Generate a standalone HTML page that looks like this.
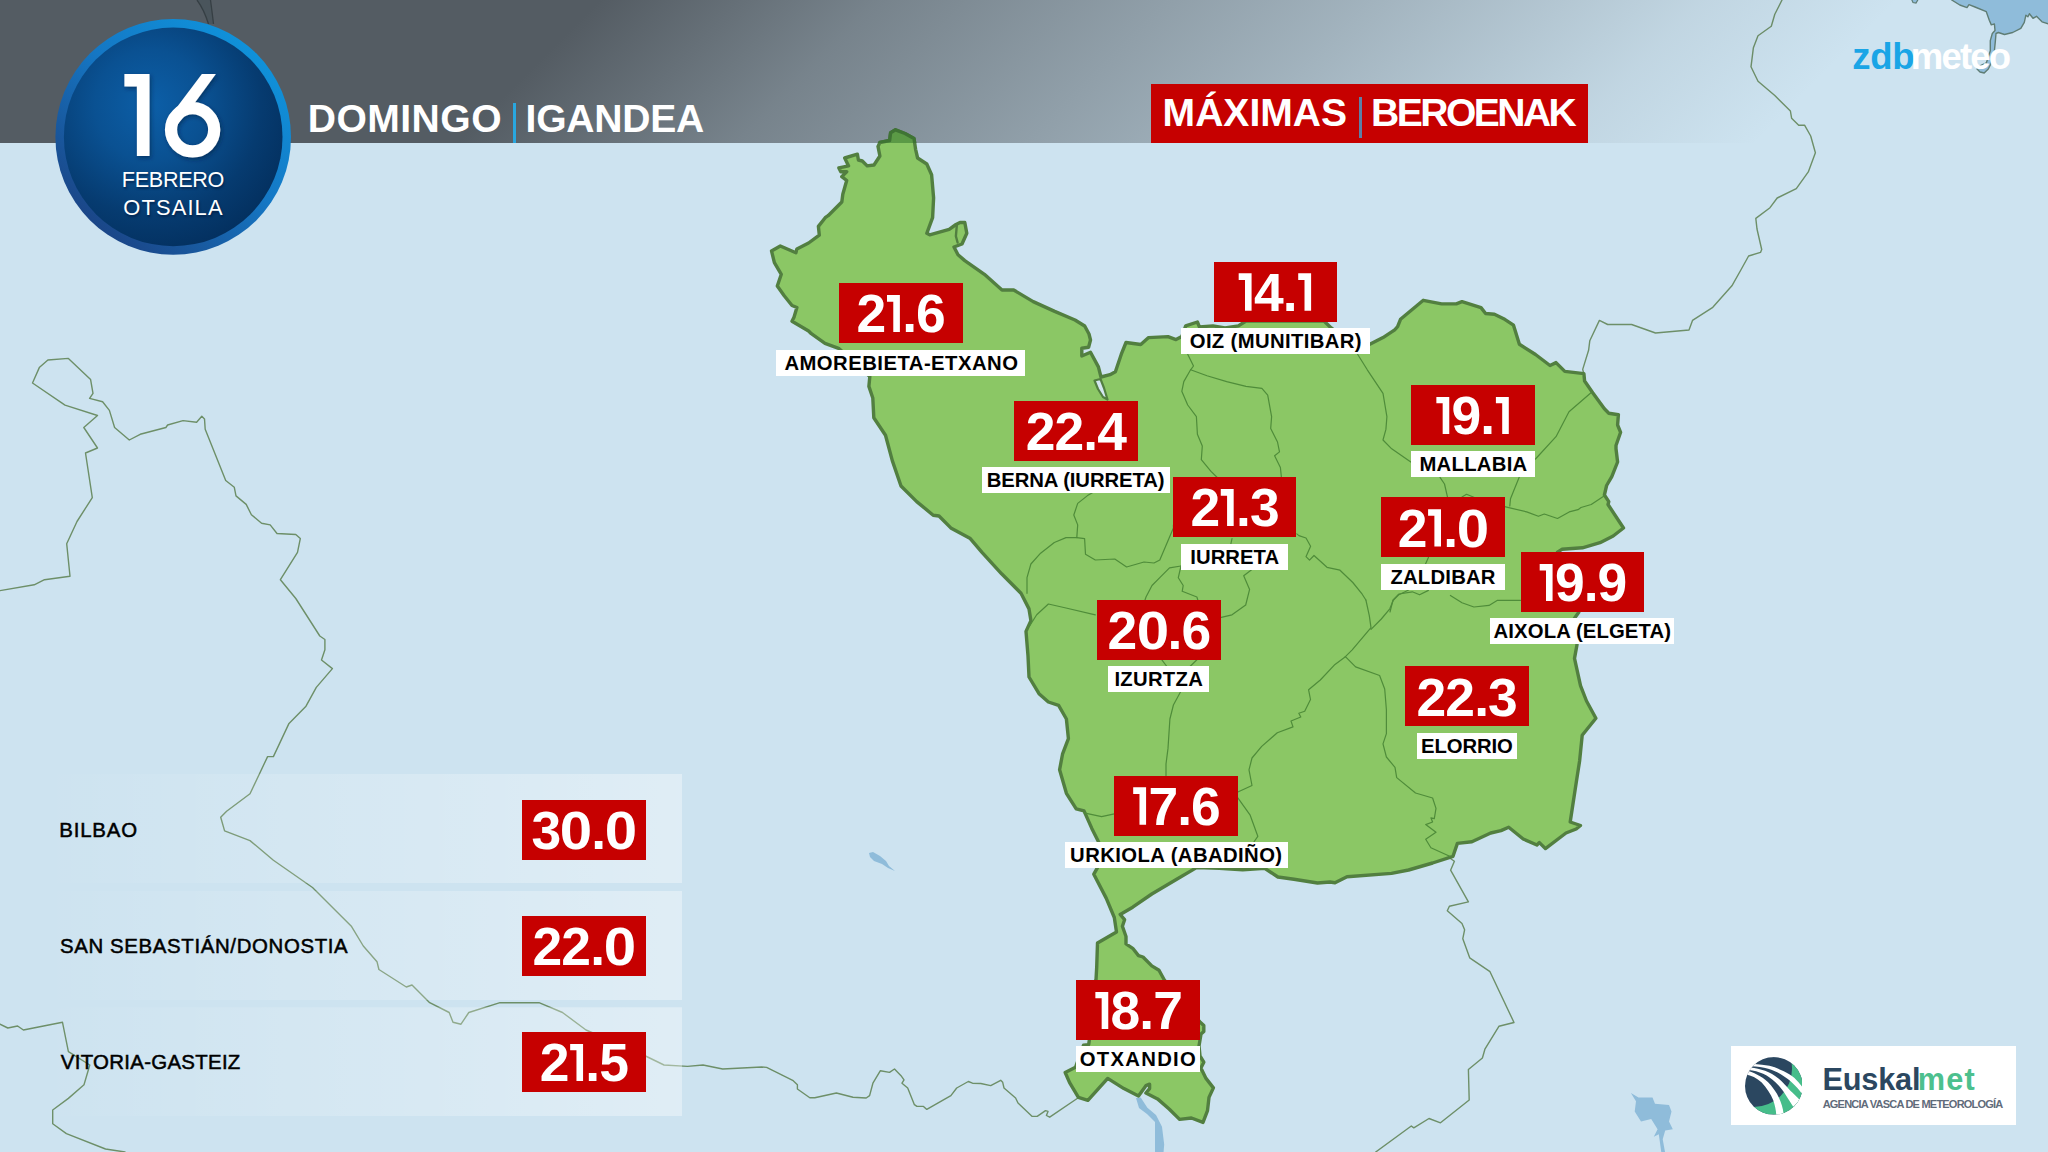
<!DOCTYPE html><html lang="es"><head><meta charset="utf-8"><title>Maximas</title><style>
*{margin:0;padding:0;box-sizing:border-box}
html,body{width:2048px;height:1152px;overflow:hidden;background:#cde3f0}
body{position:relative;font-family:"Liberation Sans",sans-serif}
#map{position:absolute;left:0;top:0}
.t{position:absolute;white-space:nowrap;line-height:1}
.box{position:absolute;background:#c60000;width:123.5px;height:60px;overflow:hidden}
.box span{position:absolute;left:0;top:4.20px;width:100%;text-align:center;color:#fff;font-weight:bold;font-size:53.4px;line-height:1;white-space:nowrap;letter-spacing:-0.9px}
.box i{display:inline-block;width:17.7px;height:37.4px;background:#fff;margin-right:-0.9px;clip-path:polygon(1.6px 0,14.5px 0,14.5px 100%,7.9px 100%,7.9px 6.6px,1.6px 6.6px)}
.box b{display:inline-block;transform:scaleX(1.09);margin:0 1.2px}
.lab{position:absolute;background:#fff;height:26px}
</style></head><body>
<svg id="map" width="2048" height="1152" viewBox="0 0 2048 1152">
<defs>
<linearGradient id="hg" gradientUnits="userSpaceOnUse" x1="300" y1="300" x2="950" y2="950">
<stop offset="0" stop-color="#545c63" stop-opacity="1"/>
<stop offset="0.215" stop-color="#545c63" stop-opacity="0.71"/>
<stop offset="0.44" stop-color="#545c63" stop-opacity="0.50"/>
<stop offset="0.58" stop-color="#545c63" stop-opacity="0.37"/>
<stop offset="0.73" stop-color="#545c63" stop-opacity="0.22"/>
<stop offset="0.85" stop-color="#545c63" stop-opacity="0.10"/>
<stop offset="1" stop-color="#545c63" stop-opacity="0"/>
</linearGradient>
<linearGradient id="ring" x1="0.85" y1="0.1" x2="0.15" y2="0.9">
<stop offset="0" stop-color="#0f93db"/><stop offset="0.45" stop-color="#1577c4"/><stop offset="1" stop-color="#1b4384"/>
</linearGradient>
<radialGradient id="disc" gradientUnits="userSpaceOnUse" cx="150" cy="105" r="185">
<stop offset="0" stop-color="#0c5fa8"/><stop offset="0.3" stop-color="#0a5192"/><stop offset="0.6" stop-color="#063b70"/><stop offset="0.85" stop-color="#032e5c"/><stop offset="1" stop-color="#02264e"/>
</radialGradient>
<linearGradient id="rowg" gradientUnits="userSpaceOnUse" x1="40" y1="0" x2="682" y2="0">
<stop offset="0" stop-color="#fff" stop-opacity="0"/><stop offset="1" stop-color="#fff" stop-opacity="0.37"/>
</linearGradient>
<filter id="sh" x="-20%" y="-20%" width="150%" height="150%"><feDropShadow dx="1.5" dy="2" stdDeviation="2" flood-color="#001a3d" flood-opacity="0.55"/></filter>
<clipPath id="hdrclip"><rect x="0" y="0" width="2048" height="143"/></clipPath>
</defs>
<rect width="2048" height="1152" fill="#cde3f0"/>
<polygon points="1951.7,0.0 1959.8,5.0 1967.0,7.6 1969.0,4.6 1975.0,7.0 1986.3,11.7 1989.3,20.3 1991.3,24.9 1994.4,23.9 1995.0,30.5 1992.3,33.5 1990.3,40.6 1990.3,50.8 1988.3,56.9 1986.3,63.0 1980.0,66.0 1977.0,69.0 1980.0,72.0 1984.2,73.0 1988.3,69.0 1990.3,65.0 1994.4,50.8 1995.4,40.6 1996.0,33.5 1998.4,32.5 2004.5,34.5 2012.7,32.5 2020.8,28.4 2024.3,22.3 2025.9,15.2 2027.9,16.8 2029.4,13.7 2033.0,18.3 2036.5,16.3 2042.0,21.8 2050.0,24.5 2050.0,-2.0 1951.7,-2.0" fill="#8fbcda" stroke="#5f7d74" stroke-width="1.4" stroke-linejoin="round"/>
<polygon points="1911.0,-2.0 1913.0,2.5 1916.0,3.0 1919.0,-2.0" fill="#8fbcda" stroke="#5f7d74" stroke-width="1.2"/>
<polygon points="1630.9,1093.0 1638.5,1097.4 1652.5,1097.4 1655.0,1103.8 1669.0,1105.0 1671.5,1111.4 1669.0,1121.6 1672.8,1129.2 1665.2,1130.4 1662.7,1139.3 1665.2,1153.0 1661.4,1153.0 1658.8,1134.3 1653.8,1136.8 1657.6,1129.2 1651.2,1119.0 1641.0,1121.6 1634.7,1111.4 1636.0,1101.2" fill="#8fbcda"/>
<polygon points="869.0,853.0 873.0,852.0 880.0,856.0 886.0,861.0 889.0,866.0 895.0,871.0 888.0,868.0 882.0,864.0 874.0,861.0 870.0,857.0" fill="#8fbcda"/>
<polygon points="1136.0,1098.0 1139.0,1108.0 1147.0,1114.0 1155.0,1122.0 1155.0,1136.0 1155.0,1153.0 1163.5,1153.0 1164.2,1144.4 1162.0,1126.8 1156.0,1115.0 1147.4,1107.7 1140.7,1097.4" fill="#8fbcda"/>
<polyline points="0.0,590.6 34.2,584.8 44.5,579.7 70.0,576.2 66.7,543.7 77.0,521.5 92.3,497.6 85.5,453.0 97.5,448.0 83.8,427.5 97.5,415.5 65.0,405.2 32.5,383.0 39.3,367.6 47.9,360.0 68.4,358.4 90.6,379.6 93.0,393.3 89.6,398.4 102.6,401.8 109.4,410.4 114.6,427.5 129.3,440.0 140.2,434.3 165.9,427.5 167.6,425.0 183.0,420.6 196.6,422.3 201.8,416.2 204.5,418.9 205.2,429.2 225.7,480.5 234.3,487.3 236.0,495.9 246.2,504.4 251.4,514.7 261.6,523.2 270.2,524.9 277.0,533.5 295.8,534.5 300.3,538.6 297.5,552.3 280.4,579.7 295.8,598.5 319.8,636.0 324.9,639.5 324.9,649.8 321.5,660.0 332.4,668.6 316.3,687.4 306.0,706.2 289.0,723.4 273.4,756.6 267.6,756.6 250.0,793.8 226.6,811.3 220.7,817.2 224.6,830.9 250.0,840.6 273.4,860.2 312.5,887.5 351.6,926.6 363.3,946.0 377.0,961.7 378.9,969.5 406.3,987.0 412.0,985.0 429.7,1002.7 449.2,1012.5 453.0,1022.3 461.0,1024.2 468.8,1012.5 500.0,1002.7 539.0,1002.7 562.5,1012.5 586.0,1030.0 609.4,1039.8 644.5,1055.5 664.0,1065.0 687.5,1066.4 703.0,1065.0 722.7,1069.0 761.7,1067.0 766.6,1067.4 793.2,1080.7 797.4,1084.8 797.4,1089.0 809.8,1097.8 814.8,1097.8 836.4,1093.0 853.0,1097.3 866.2,1098.0 869.6,1095.6 872.9,1083.2 880.4,1070.7 889.5,1072.4 894.5,1069.0 901.0,1075.7 904.0,1079.8 902.0,1083.2 907.7,1088.0 914.4,1104.7 916.9,1106.4 923.5,1106.4 926.8,1109.4 950.9,1095.6 956.7,1088.0 968.3,1081.5 972.5,1083.2 980.8,1083.5 990.7,1085.6 1000.7,1080.3 1002.7,1082.3 1004.0,1088.0 1015.6,1098.0 1018.0,1103.0 1032.2,1116.4 1037.2,1116.4 1045.5,1110.6 1048.0,1111.4 1046.4,1115.5 1049.7,1117.2 1077.9,1098.0" fill="none" stroke="#6d8f68" stroke-width="1.4" stroke-linejoin="round" stroke-linecap="round"/>
<polyline points="0.0,1024.2 7.8,1028.0 17.6,1026.0 23.4,1030.0 62.5,1022.3 68.4,1051.6 89.8,1065.0 84.0,1084.8 68.4,1098.4 52.7,1110.0 52.7,1123.8 66.4,1133.6 105.5,1149.0 125.0,1152.0" fill="none" stroke="#6d8f68" stroke-width="1.4" stroke-linejoin="round" stroke-linecap="round"/>
<polyline points="1782.0,0.0 1774.8,14.3 1771.3,26.3 1758.0,35.8 1753.4,47.7 1751.0,66.8 1758.0,81.2 1774.8,95.5 1790.4,111.0 1791.6,118.2 1798.7,125.3 1804.7,125.3 1810.7,136.0 1815.4,152.8 1808.3,171.9 1796.3,188.6 1777.2,198.0 1770.0,207.7 1755.8,218.4 1757.0,229.0 1761.7,249.5 1760.5,252.4 1748.6,256.0 1741.4,269.0 1731.9,285.8 1712.8,307.3 1692.5,320.4 1689.0,330.0 1655.5,333.0 1631.6,324.5 1607.7,324.5 1599.4,320.4 1589.8,340.7 1588.6,350.3 1582.7,369.4 1583.9,374.0" fill="none" stroke="#6d8f68" stroke-width="1.4" stroke-linejoin="round" stroke-linecap="round"/>
<polyline points="1449.7,858.0 1454.4,861.3 1450.6,870.2 1468.4,901.9 1449.4,906.2 1447.3,910.8 1462.0,923.5 1464.6,929.8 1462.8,938.7 1469.7,957.8 1490.0,971.7 1514.0,1022.5 1498.9,1026.3 1484.9,1049.2 1482.4,1058.0 1468.4,1069.5 1469.2,1100.0 1440.5,1122.8 1429.0,1118.5 1413.8,1127.9 1411.3,1126.0 1375.7,1152.0" fill="none" stroke="#6d8f68" stroke-width="1.4" stroke-linejoin="round" stroke-linecap="round"/>
<polygon points="895.5,129.8 905.0,133.5 914.0,138.5 915.6,149.3 917.6,158.0 926.8,164.0 931.6,174.7 933.6,198.0 932.6,217.6 926.8,233.3 929.7,234.8 949.2,229.4 956.0,224.5 960.0,222.5 964.8,222.5 966.8,233.3 962.0,244.0 954.0,247.0 958.0,254.8 964.8,260.6 984.4,274.3 1002.0,290.0 1013.7,290.0 1033.2,301.6 1054.7,311.4 1075.0,320.0 1084.7,326.0 1089.0,334.0 1090.5,340.0 1088.6,347.3 1081.8,348.3 1081.8,356.0 1090.5,352.2 1098.4,366.9 1101.0,377.0 1110.0,374.7 1115.4,371.8 1121.3,354.2 1126.0,342.5 1140.8,344.5 1148.6,337.6 1168.0,336.6 1176.0,339.6 1181.8,336.6 1185.7,325.9 1197.4,322.0 1199.4,326.9 1213.0,325.9 1225.0,328.0 1238.4,325.9 1246.0,321.0 1324.0,321.0 1331.2,327.9 1345.0,338.0 1369.3,344.5 1383.0,337.6 1394.7,329.8 1397.6,326.7 1400.5,319.3 1423.3,300.3 1441.6,303.9 1456.3,303.9 1462.0,301.7 1481.0,307.6 1485.6,313.5 1494.4,314.2 1504.7,319.3 1513.5,325.2 1519.4,344.3 1535.5,354.5 1550.0,365.5 1556.0,362.6 1564.8,371.4 1583.9,373.6 1584.6,381.0 1592.7,392.7 1604.4,408.8 1608.8,413.2 1618.4,414.7 1617.6,425.0 1620.6,432.3 1616.0,445.5 1616.0,448.8 1617.6,462.0 1611.8,476.7 1606.6,485.5 1604.4,495.0 1608.8,501.6 1608.0,504.5 1623.5,528.0 1613.2,536.0 1600.0,542.7 1582.4,547.8 1561.9,549.3 1557.5,552.2 1565.0,580.0 1578.8,612.2 1574.5,618.2 1577.0,644.7 1574.5,658.4 1580.5,685.7 1586.5,701.0 1595.9,718.2 1582.2,735.3 1579.6,761.0 1576.2,782.7 1570.2,822.0 1580.5,825.5 1576.2,829.0 1566.0,833.0 1545.4,848.6 1539.4,842.6 1536.9,845.0 1523.2,839.0 1508.7,827.2 1501.0,830.6 1490.7,833.0 1471.9,841.7 1457.4,843.4 1453.0,856.3 1432.6,863.0 1408.6,870.0 1391.5,873.4 1347.0,876.8 1335.0,882.8 1330.0,882.0 1317.5,883.0 1294.0,879.3 1277.9,877.0 1264.7,868.3 1242.7,869.8 1219.2,868.3 1196.5,867.6 1176.7,879.3 1151.8,894.0 1132.7,907.2 1120.2,914.5 1124.6,919.7 1122.4,926.3 1126.0,936.5 1126.0,943.9 1132.7,948.3 1138.5,955.6 1143.0,957.0 1151.8,965.9 1159.0,970.3 1164.2,979.8 1180.0,1000.0 1200.0,1021.9 1203.8,1025.5 1203.8,1031.4 1201.0,1034.0 1199.0,1046.0 1200.0,1056.0 1203.8,1062.2 1200.9,1068.0 1206.0,1078.4 1213.4,1087.9 1209.0,1097.4 1207.5,1110.6 1203.0,1122.4 1191.4,1118.0 1179.6,1119.4 1169.4,1109.2 1157.6,1098.9 1145.9,1093.0 1149.6,1088.6 1149.6,1084.2 1145.9,1085.7 1138.5,1096.0 1123.9,1088.6 1107.7,1078.4 1087.9,1100.4 1078.4,1097.4 1069.6,1082.7 1065.2,1072.5 1075.5,1067.3 1083.5,1045.3 1088.7,1044.6 1089.4,1039.5 1096.0,979.8 1096.7,967.4 1097.5,943.0 1116.5,932.0 1114.3,917.5 1106.3,898.4 1093.8,874.2 1097.5,867.6 1099.6,844.0 1091.8,828.4 1084.0,810.9 1076.2,808.9 1066.4,793.3 1059.6,769.8 1062.5,754.2 1068.4,738.6 1066.4,719.0 1058.6,705.4 1048.4,702.0 1039.0,693.7 1029.0,677.0 1028.0,655.8 1026.0,631.4 1030.9,620.6 1029.0,608.9 1021.0,593.3 1001.6,573.8 982.0,552.3 970.3,538.6 950.8,527.9 939.0,516.0 933.2,515.2 916.7,501.6 901.0,486.0 892.3,460.6 885.5,435.2 873.8,417.7 872.8,398.0 868.9,386.4 869.8,376.6 838.6,348.3 825.0,343.4 811.3,333.7 808.6,331.0 792.0,321.2 794.0,317.3 796.9,307.5 792.0,305.5 784.2,295.8 777.3,286.0 781.3,274.3 774.4,262.6 771.5,250.9 780.3,246.0 795.9,252.8 796.9,248.9 808.6,243.0 819.3,235.2 818.4,226.4 825.2,217.7 828.1,215.7 841.8,202.0 842.8,194.2 846.7,180.5 841.8,176.6 846.7,171.8 840.8,171.8 838.9,167.9 848.6,165.9 844.7,158.0 857.4,154.2 858.4,160.0 862.3,161.0 867.2,165.9 874.0,165.0 879.9,156.0 878.0,146.4 879.9,142.5 889.6,140.5 890.6,132.7" fill="#8bc765" stroke="#527f40" stroke-width="3.4" stroke-linejoin="round"/>
<polygon points="1094.5,380.5 1098.0,389.0 1103.0,397.0 1107.5,399.5 1104.0,388.0 1100.5,379.0" fill="#d4e6f0" stroke="#527f40" stroke-width="2.2" stroke-linejoin="round"/>
<polyline points="956.8,225.5 955.9,236.2 957.6,242.5" fill="none" stroke="#527f40" stroke-width="2.4" stroke-linecap="round"/>
<polyline points="1027.0,593.3 1027.0,577.6 1030.9,564.0 1040.6,553.2 1054.3,542.5 1066.0,537.6 1076.8,537.6 1077.7,524.9 1073.8,515.0 1077.7,503.4 1087.5,495.6 1092.4,492.7" fill="none" stroke="#4f8c3a" stroke-width="1.2" stroke-linejoin="round" stroke-linecap="round"/>
<polyline points="1076.8,537.6 1084.6,538.6 1085.5,554.2 1095.3,560.0 1114.8,559.0 1126.6,567.0 1144.0,562.0 1154.0,563.0 1159.8,560.0 1173.4,527.9 1173.4,525.0" fill="none" stroke="#4f8c3a" stroke-width="1.2" stroke-linejoin="round" stroke-linecap="round"/>
<polyline points="1181.0,566.0 1169.5,567.9 1159.8,577.7 1152.0,585.5 1146.0,597.0 1145.0,600.0" fill="none" stroke="#4f8c3a" stroke-width="1.2" stroke-linejoin="round" stroke-linecap="round"/>
<polyline points="1181.0,566.0 1178.3,577.7 1183.2,585.5 1182.2,591.3 1196.9,597.0 1197.8,600.0" fill="none" stroke="#4f8c3a" stroke-width="1.2" stroke-linejoin="round" stroke-linecap="round"/>
<polyline points="1232.0,538.6 1230.0,548.0" fill="none" stroke="#4f8c3a" stroke-width="1.2" stroke-linejoin="round" stroke-linecap="round"/>
<polyline points="1251.6,569.8 1243.7,575.7 1249.6,589.4 1245.7,605.0 1232.0,614.8 1220.3,617.7" fill="none" stroke="#4f8c3a" stroke-width="1.2" stroke-linejoin="round" stroke-linecap="round"/>
<polyline points="1029.9,625.5 1036.7,614.8 1048.4,604.0 1066.0,608.0 1095.3,614.8" fill="none" stroke="#4f8c3a" stroke-width="1.2" stroke-linejoin="round" stroke-linecap="round"/>
<polyline points="1161.7,659.7 1167.6,667.5" fill="none" stroke="#4f8c3a" stroke-width="1.2" stroke-linejoin="round" stroke-linecap="round"/>
<polyline points="1196.9,659.7 1189.0,667.5" fill="none" stroke="#4f8c3a" stroke-width="1.2" stroke-linejoin="round" stroke-linecap="round"/>
<polyline points="1181.0,691.0 1173.4,705.0 1169.9,719.0 1168.0,748.4 1166.0,764.0 1166.0,775.7" fill="none" stroke="#4f8c3a" stroke-width="1.2" stroke-linejoin="round" stroke-linecap="round"/>
<polyline points="1084.0,812.8 1101.6,816.7 1114.3,813.8" fill="none" stroke="#4f8c3a" stroke-width="1.2" stroke-linejoin="round" stroke-linecap="round"/>
<polyline points="1345.4,656.7 1335.0,664.4 1320.3,680.0 1308.6,689.8 1310.5,699.5 1304.7,711.3 1298.8,713.2 1300.8,717.0 1291.0,721.0 1293.0,726.9 1277.3,732.7 1261.7,746.4 1252.0,758.0 1249.0,769.8 1252.0,785.5 1237.3,792.3" fill="none" stroke="#4f8c3a" stroke-width="1.2" stroke-linejoin="round" stroke-linecap="round"/>
<polyline points="1237.3,797.2 1250.0,814.8 1257.8,836.3 1253.9,842.0" fill="none" stroke="#4f8c3a" stroke-width="1.2" stroke-linejoin="round" stroke-linecap="round"/>
<polyline points="1187.7,354.2 1193.5,366.0 1190.6,369.8 1183.8,381.6 1181.8,391.3 1187.7,405.0 1196.4,416.7 1197.4,434.3 1202.3,446.0 1201.3,459.7 1211.0,471.4 1217.0,477.3" fill="none" stroke="#4f8c3a" stroke-width="1.2" stroke-linejoin="round" stroke-linecap="round"/>
<polyline points="1190.6,369.8 1207.0,375.7 1226.7,381.6 1246.0,386.4 1261.9,388.4 1267.7,395.2 1271.6,416.7 1270.7,428.4 1277.5,442.0 1279.5,451.9 1274.6,455.8 1280.4,467.5 1281.4,477.3" fill="none" stroke="#4f8c3a" stroke-width="1.2" stroke-linejoin="round" stroke-linecap="round"/>
<polyline points="1357.6,354.2 1367.3,369.8 1383.0,393.3 1386.9,416.7 1385.9,429.4 1383.0,440.0 1391.7,448.8 1410.8,462.0" fill="none" stroke="#4f8c3a" stroke-width="1.2" stroke-linejoin="round" stroke-linecap="round"/>
<polyline points="1440.0,477.4 1444.5,484.0 1447.5,497.2" fill="none" stroke="#4f8c3a" stroke-width="1.2" stroke-linejoin="round" stroke-linecap="round"/>
<polyline points="1462.0,497.0 1466.5,494.3 1473.9,497.2" fill="none" stroke="#4f8c3a" stroke-width="1.2" stroke-linejoin="round" stroke-linecap="round"/>
<polyline points="1591.0,392.7 1569.0,411.8 1556.0,436.7 1535.5,459.0" fill="none" stroke="#4f8c3a" stroke-width="1.2" stroke-linejoin="round" stroke-linecap="round"/>
<polyline points="1519.4,476.7 1513.5,491.3 1510.5,498.7 1509.8,506.0" fill="none" stroke="#4f8c3a" stroke-width="1.2" stroke-linejoin="round" stroke-linecap="round"/>
<polyline points="1504.7,506.7 1526.7,511.9 1538.4,516.3 1544.3,514.0 1557.5,518.5 1569.2,511.9 1578.0,509.7 1581.0,507.5 1591.2,504.5 1604.4,495.7" fill="none" stroke="#4f8c3a" stroke-width="1.2" stroke-linejoin="round" stroke-linecap="round"/>
<polyline points="1390.0,612.0 1393.0,600.0 1399.0,594.0 1412.3,591.8 1419.6,594.8 1428.4,590.4" fill="none" stroke="#4f8c3a" stroke-width="1.2" stroke-linejoin="round" stroke-linecap="round"/>
<polyline points="1428.4,557.4 1425.5,564.0" fill="none" stroke="#4f8c3a" stroke-width="1.2" stroke-linejoin="round" stroke-linecap="round"/>
<polyline points="1450.4,595.5 1462.0,602.8 1473.9,607.0 1489.0,605.4 1497.5,600.3 1520.5,600.3" fill="none" stroke="#4f8c3a" stroke-width="1.2" stroke-linejoin="round" stroke-linecap="round"/>
<polyline points="1296.8,533.9 1298.9,535.6 1306.0,538.0 1310.6,546.2 1306.0,556.7 1309.5,560.2 1314.0,555.5 1327.0,567.3 1340.0,570.2 1352.8,582.5 1362.2,594.2 1365.9,600.0" fill="none" stroke="#4f8c3a" stroke-width="1.2" stroke-linejoin="round" stroke-linecap="round"/>
<polyline points="1365.9,600.0 1369.3,615.6 1371.0,627.6 1352.2,649.8 1345.4,656.7" fill="none" stroke="#4f8c3a" stroke-width="1.2" stroke-linejoin="round" stroke-linecap="round"/>
<polyline points="1408.6,590.0 1398.4,595.0 1393.3,600.3 1389.8,608.8 1381.3,619.0 1371.0,629.3" fill="none" stroke="#4f8c3a" stroke-width="1.2" stroke-linejoin="round" stroke-linecap="round"/>
<polyline points="1345.4,656.7 1355.6,666.9 1379.6,675.5 1384.7,689.0 1386.4,709.7 1386.4,733.6 1383.0,743.9 1386.4,757.0 1395.0,767.4 1396.7,777.6 1415.5,793.0 1432.6,798.0 1436.0,808.4 1434.3,818.6 1430.9,817.8 1432.6,822.0 1425.7,824.6 1436.0,832.3 1425.7,839.2 1430.9,847.7 1449.7,856.3" fill="none" stroke="#4f8c3a" stroke-width="1.2" stroke-linejoin="round" stroke-linecap="round"/>
<rect x="0" y="0" width="2048" height="143" fill="url(#hg)"/>
<path d="M197,0 C203,8 206,16 208.5,24 L213.5,24 C212.5,15 211.5,8 210.5,0 Z" fill="#4a555c"/>
<path d="M197,0 C203,8 206,16 208.5,24 M210.5,0 C211.5,8 212.5,15 213.5,24" fill="none" stroke="#363f44" stroke-width="1.3"/>
<g clip-path="url(#hdrclip)"><polygon points="895.5,129.8 905.0,133.5 914.0,138.5 915.6,149.3 917.6,158.0 926.8,164.0 931.6,174.7 933.6,198.0 932.6,217.6 926.8,233.3 929.7,234.8 949.2,229.4 956.0,224.5 960.0,222.5 964.8,222.5 966.8,233.3 962.0,244.0 954.0,247.0 958.0,254.8 964.8,260.6 984.4,274.3 1002.0,290.0 1013.7,290.0 1033.2,301.6 1054.7,311.4 1075.0,320.0 1084.7,326.0 1089.0,334.0 1090.5,340.0 1088.6,347.3 1081.8,348.3 1081.8,356.0 1090.5,352.2 1098.4,366.9 1101.0,377.0 1110.0,374.7 1115.4,371.8 1121.3,354.2 1126.0,342.5 1140.8,344.5 1148.6,337.6 1168.0,336.6 1176.0,339.6 1181.8,336.6 1185.7,325.9 1197.4,322.0 1199.4,326.9 1213.0,325.9 1225.0,328.0 1238.4,325.9 1246.0,321.0 1324.0,321.0 1331.2,327.9 1345.0,338.0 1369.3,344.5 1383.0,337.6 1394.7,329.8 1397.6,326.7 1400.5,319.3 1423.3,300.3 1441.6,303.9 1456.3,303.9 1462.0,301.7 1481.0,307.6 1485.6,313.5 1494.4,314.2 1504.7,319.3 1513.5,325.2 1519.4,344.3 1535.5,354.5 1550.0,365.5 1556.0,362.6 1564.8,371.4 1583.9,373.6 1584.6,381.0 1592.7,392.7 1604.4,408.8 1608.8,413.2 1618.4,414.7 1617.6,425.0 1620.6,432.3 1616.0,445.5 1616.0,448.8 1617.6,462.0 1611.8,476.7 1606.6,485.5 1604.4,495.0 1608.8,501.6 1608.0,504.5 1623.5,528.0 1613.2,536.0 1600.0,542.7 1582.4,547.8 1561.9,549.3 1557.5,552.2 1565.0,580.0 1578.8,612.2 1574.5,618.2 1577.0,644.7 1574.5,658.4 1580.5,685.7 1586.5,701.0 1595.9,718.2 1582.2,735.3 1579.6,761.0 1576.2,782.7 1570.2,822.0 1580.5,825.5 1576.2,829.0 1566.0,833.0 1545.4,848.6 1539.4,842.6 1536.9,845.0 1523.2,839.0 1508.7,827.2 1501.0,830.6 1490.7,833.0 1471.9,841.7 1457.4,843.4 1453.0,856.3 1432.6,863.0 1408.6,870.0 1391.5,873.4 1347.0,876.8 1335.0,882.8 1330.0,882.0 1317.5,883.0 1294.0,879.3 1277.9,877.0 1264.7,868.3 1242.7,869.8 1219.2,868.3 1196.5,867.6 1176.7,879.3 1151.8,894.0 1132.7,907.2 1120.2,914.5 1124.6,919.7 1122.4,926.3 1126.0,936.5 1126.0,943.9 1132.7,948.3 1138.5,955.6 1143.0,957.0 1151.8,965.9 1159.0,970.3 1164.2,979.8 1180.0,1000.0 1200.0,1021.9 1203.8,1025.5 1203.8,1031.4 1201.0,1034.0 1199.0,1046.0 1200.0,1056.0 1203.8,1062.2 1200.9,1068.0 1206.0,1078.4 1213.4,1087.9 1209.0,1097.4 1207.5,1110.6 1203.0,1122.4 1191.4,1118.0 1179.6,1119.4 1169.4,1109.2 1157.6,1098.9 1145.9,1093.0 1149.6,1088.6 1149.6,1084.2 1145.9,1085.7 1138.5,1096.0 1123.9,1088.6 1107.7,1078.4 1087.9,1100.4 1078.4,1097.4 1069.6,1082.7 1065.2,1072.5 1075.5,1067.3 1083.5,1045.3 1088.7,1044.6 1089.4,1039.5 1096.0,979.8 1096.7,967.4 1097.5,943.0 1116.5,932.0 1114.3,917.5 1106.3,898.4 1093.8,874.2 1097.5,867.6 1099.6,844.0 1091.8,828.4 1084.0,810.9 1076.2,808.9 1066.4,793.3 1059.6,769.8 1062.5,754.2 1068.4,738.6 1066.4,719.0 1058.6,705.4 1048.4,702.0 1039.0,693.7 1029.0,677.0 1028.0,655.8 1026.0,631.4 1030.9,620.6 1029.0,608.9 1021.0,593.3 1001.6,573.8 982.0,552.3 970.3,538.6 950.8,527.9 939.0,516.0 933.2,515.2 916.7,501.6 901.0,486.0 892.3,460.6 885.5,435.2 873.8,417.7 872.8,398.0 868.9,386.4 869.8,376.6 838.6,348.3 825.0,343.4 811.3,333.7 808.6,331.0 792.0,321.2 794.0,317.3 796.9,307.5 792.0,305.5 784.2,295.8 777.3,286.0 781.3,274.3 774.4,262.6 771.5,250.9 780.3,246.0 795.9,252.8 796.9,248.9 808.6,243.0 819.3,235.2 818.4,226.4 825.2,217.7 828.1,215.7 841.8,202.0 842.8,194.2 846.7,180.5 841.8,176.6 846.7,171.8 840.8,171.8 838.9,167.9 848.6,165.9 844.7,158.0 857.4,154.2 858.4,160.0 862.3,161.0 867.2,165.9 874.0,165.0 879.9,156.0 878.0,146.4 879.9,142.5 889.6,140.5 890.6,132.7" fill="#5b9a46" stroke="#3f7434" stroke-width="3.4" stroke-linejoin="round"/></g>
<rect x="40" y="774" width="642" height="109" fill="url(#rowg)"/>
<rect x="40" y="891" width="642" height="109" fill="url(#rowg)"/>
<rect x="40" y="1007.3" width="642" height="108.70000000000005" fill="url(#rowg)"/>
<circle cx="173.2" cy="136.9" r="117.8" fill="url(#ring)"/>
<circle cx="173.2" cy="136.9" r="109.3" fill="url(#disc)"/>
<g filter="url(#sh)"><g fill="#fff">
<path d="M124.4,74 H149.5 V156 H136.9 V86.6 H124.4 Z"/>
<path d="M201.9,74 H215.9 L189.5,110 L172,131 L166.5,121 Z"/>
</g>
<circle cx="192.6" cy="129.8" r="21.6" fill="none" stroke="#fff" stroke-width="12.2"/></g>
</svg>
<div class="box" style="left:839px;top:283.3px"><span>2<i></i>.6</span></div>
<div class="lab" style="left:776px;top:349.9px;width:249.1px"></div>
<div class="t" style="left:784.40px;top:353.02px;font-size:20.3px;font-weight:bold;color:#000;letter-spacing:0.466px;">AMOREBIETA-ETXANO</div>
<div class="box" style="left:1213.5px;top:261.5px"><span><i></i>4.<i></i></span></div>
<div class="lab" style="left:1180.8px;top:327.9px;width:188.9px"></div>
<div class="t" style="left:1189.75px;top:331.02px;font-size:20.3px;font-weight:bold;color:#000;letter-spacing:0.357px;">OIZ (MUNITIBAR)</div>
<div class="box" style="left:1014.2px;top:400.5px"><span>22.4</span></div>
<div class="lab" style="left:982px;top:467.2px;width:187.6px"></div>
<div class="t" style="left:986.65px;top:470.32px;font-size:20.3px;font-weight:bold;color:#000;letter-spacing:-0.082px;">BERNA (IURRETA)</div>
<div class="box" style="left:1172.8px;top:477.3px"><span>2<i></i>.3</span></div>
<div class="lab" style="left:1181.1px;top:543.8px;width:107.0px"></div>
<div class="t" style="left:1190.35px;top:546.92px;font-size:20.3px;font-weight:bold;color:#000;letter-spacing:0.033px;">IURRETA</div>
<div class="box" style="left:1411.2px;top:384.8px"><span><i></i>9.<i></i></span></div>
<div class="lab" style="left:1411.2px;top:451px;width:123.5px"></div>
<div class="t" style="left:1419.45px;top:454.12px;font-size:20.3px;font-weight:bold;color:#000;letter-spacing:0.271px;">MALLABIA</div>
<div class="box" style="left:1381.3px;top:497.4px"><span>2<i></i>.<b>0</b></span></div>
<div class="lab" style="left:1381.3px;top:564px;width:123.3px"></div>
<div class="t" style="left:1390.40px;top:567.12px;font-size:20.3px;font-weight:bold;color:#000;letter-spacing:0.207px;">ZALDIBAR</div>
<div class="box" style="left:1520.5px;top:552.2px"><span><i></i>9.9</span></div>
<div class="lab" style="left:1489.9px;top:618.2px;width:183.7px"></div>
<div class="t" style="left:1493.60px;top:621.32px;font-size:20.3px;font-weight:bold;color:#000;letter-spacing:0.114px;">AIXOLA (ELGETA)</div>
<div class="box" style="left:1097.2px;top:599.7px"><span>2<b>0</b>.6</span></div>
<div class="lab" style="left:1108px;top:666px;width:100.6px"></div>
<div class="t" style="left:1114.45px;top:669.12px;font-size:20.3px;font-weight:bold;color:#000;letter-spacing:0.267px;">IZURTZA</div>
<div class="box" style="left:1405px;top:666.4px"><span>22.3</span></div>
<div class="lab" style="left:1416.9px;top:732.8px;width:100.0px"></div>
<div class="t" style="left:1420.95px;top:735.92px;font-size:20.3px;font-weight:bold;color:#000;letter-spacing:-0.083px;">ELORRIO</div>
<div class="box" style="left:1114px;top:775.5px"><span><i></i>7.6</span></div>
<div class="lab" style="left:1064.5px;top:841.5px;width:223.5px"></div>
<div class="t" style="left:1070.10px;top:844.62px;font-size:20.3px;font-weight:bold;color:#000;letter-spacing:0.412px;">URKIOLA (ABADIÑO)</div>
<div class="box" style="left:1076.2px;top:979.8px"><span><i></i>8.7</span></div>
<div class="lab" style="left:1076.2px;top:1046px;width:124.0px"></div>
<div class="t" style="left:1079.75px;top:1049.12px;font-size:20.3px;font-weight:bold;color:#000;letter-spacing:1.279px;">OTXANDIO</div>
<div class="box" style="left:522.2px;top:799.9px"><span>3<b>0</b>.<b>0</b></span></div>
<div class="t" style="left:59.25px;top:820.13px;font-size:20.4px;font-weight:normal;color:#000;letter-spacing:0.820px;-webkit-text-stroke:0.5px #000;">BILBAO</div>
<div class="box" style="left:522.2px;top:916px"><span>22.<b>0</b></span></div>
<div class="t" style="left:59.95px;top:936.13px;font-size:20.4px;font-weight:normal;color:#000;letter-spacing:0.643px;-webkit-text-stroke:0.5px #000;">SAN SEBASTIÁN/DONOSTIA</div>
<div class="box" style="left:522.2px;top:1031.8px"><span>2<i></i>.5</span></div>
<div class="t" style="left:60.80px;top:1052.13px;font-size:20.4px;font-weight:normal;color:#000;letter-spacing:0.307px;-webkit-text-stroke:0.5px #000;">VITORIA-GASTEIZ</div>
<div class="t" id="dom" style="left:307.70px;top:98.70px;font-size:39.1px;font-weight:bold;color:#fff;letter-spacing:0.475px;">DOMINGO</div>
<div style="position:absolute;left:512.6px;top:102.6px;width:3px;height:40.4px;background:#29a7df"></div>
<div class="t" id="iga" style="left:525.60px;top:98.70px;font-size:39.1px;font-weight:bold;color:#fff;letter-spacing:-0.242px;">IGANDEA</div>
<div style="position:absolute;left:1151.1px;top:84.1px;width:437.1px;height:59px;background:#c60000"></div>
<div class="t" id="max" style="left:1162.60px;top:93.10px;font-size:39.1px;font-weight:bold;color:#fff;letter-spacing:-0.017px;">MÁXIMAS</div>
<div style="position:absolute;left:1358.5px;top:97px;width:3px;height:41px;background:#5d7fa6"></div>
<div class="t" id="ber" style="left:1371.10px;top:93.10px;font-size:39.1px;font-weight:bold;color:#fff;letter-spacing:-2.564px;">BEROENAK</div>
<div class="t" id="feb" style="left:121.85px;top:169.42px;font-size:21.6px;font-weight:normal;color:#fff;letter-spacing:-0.317px;text-shadow:1px 1.5px 2px rgba(0,20,55,.55);">FEBRERO</div>
<div class="t" id="ots" style="left:123.35px;top:197.26px;font-size:21.9px;font-weight:normal;color:#fff;letter-spacing:1.117px;text-shadow:1px 1.5px 2px rgba(0,20,55,.55);">OTSAILA</div>
<div class="t" id="zdb" style="left:1852.25px;top:38.70px;font-size:36.5px;font-weight:bold;color:#1aa5e6;letter-spacing:-0.300px;">zdb</div>
<div class="t" id="met" style="left:1910.80px;top:38.70px;font-size:36.5px;font-weight:bold;color:#fff;letter-spacing:-1.812px;">meteo</div>
<div style="position:absolute;left:1731.4px;top:1046.4px;width:284.6px;height:79.1px;background:#fff"></div>
<svg style="position:absolute;left:1744.9px;top:1057.2px" width="57.6" height="57.8" viewBox="0 0 100 100">
<defs><clipPath id="ec"><circle cx="50" cy="50" r="50"/></clipPath>
<mask id="em"><rect width="100" height="100" fill="#fff"/><circle cx="15.2" cy="20.1" r="66.5" fill="#000"/></mask></defs>
<g clip-path="url(#ec)">
<rect width="100" height="100" fill="#2b4760"/>
<rect width="100" height="100" fill="#46bd8a" mask="url(#em)"/>
<path d="M2,30.5 C10,31 20.7,36.4 29,44 C37,52.7 45,64 48.9,74.5 C52,84 54,93 54.4,102 L67.2,100 C66,88 63,79 58.7,70.1 C55,62 50,55 44.6,48.4 C38,41 32,36.5 26.1,33.2 C20,29.5 13,26 6,24 Z" fill="#fff"/>
<path d="M6,22.6 C15,23.5 24,26 31.5,28.8 C40,32.5 47,38 53.3,44 C60,50.5 66,58 70.7,65.8 C75,73 80,80 83.7,86.4 L96,75.5 C90,69 84,63.5 78.3,58.2 C72,50 65,43 58.7,37.5 C51,31.5 43,27 34.8,23.9 C27,21 18,19 9.5,18 Z" fill="#fff"/>
<path d="M11,16 C21,16.5 31,18 40.2,20.1 C49,22.5 57,26.5 64.1,31 C71,35.5 78,40.5 83.7,46.2 C89,51 94,56.5 98.5,63 L101.5,54.5 C97,48 91,41.5 85.9,36.4 C80,31.5 74,27.8 67.4,24.5 C59,20.5 51,17.2 42.4,15.2 C34,13.5 25,12.3 16.5,11.8 Z" fill="#fff"/>
</g></svg>
<div class="t" id="eus" style="left:1822.45px;top:1064.71px;font-size:30.7px;font-weight:bold;color:#2b4760;letter-spacing:-0.190px;">Euskal</div>
<div class="t" id="eum" style="left:1917.80px;top:1064.71px;font-size:30.7px;font-weight:bold;color:#4cc08e;letter-spacing:1.150px;">met</div>
<div class="t" id="age" style="left:1822.70px;top:1098.79px;font-size:11px;font-weight:bold;color:#5f6b7a;letter-spacing:-0.782px;">AGENCIA VASCA DE METEOROLOGÍA</div>
</body></html>
